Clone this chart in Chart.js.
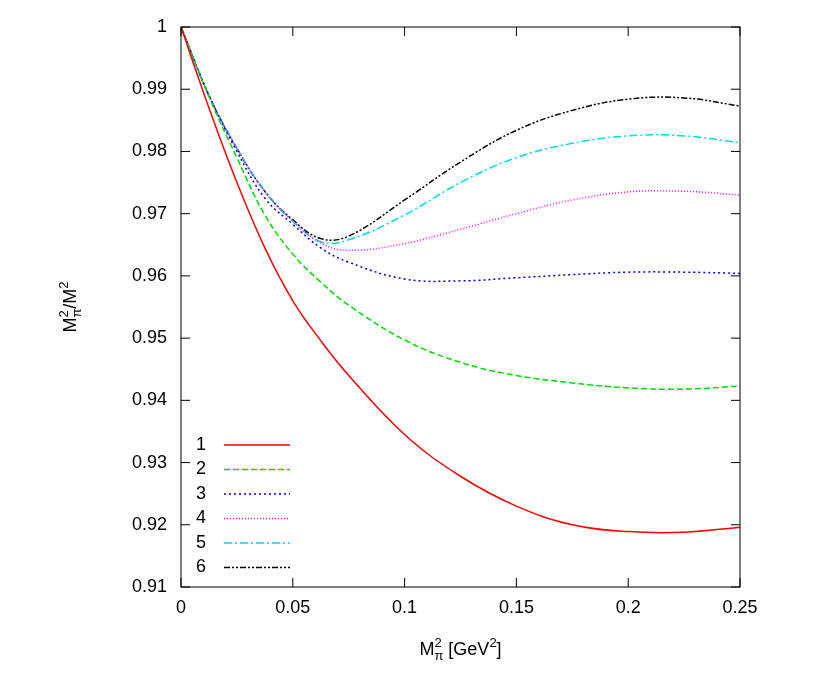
<!DOCTYPE html>
<html>
<head>
<script src="https://cdn.jsdelivr.net/npm/chart.js@4"></script>
<style>body{margin:0;background:#fff}#wrap{width:830px;height:691px}</style>
</head>
<body>
<div id="wrap"><canvas id="c"></canvas></div>
<script>
const xs = [0, 0.0125, 0.025, 0.0375, 0.05, 0.0625, 0.075, 0.1, 0.125, 0.15, 0.175, 0.2, 0.225, 0.25];
const s1 = [1, 0.987, 0.975, 0.9645, 0.956, 0.9496, 0.944, 0.9345, 0.9278, 0.923, 0.920, 0.9189, 0.9188, 0.9196];
const s2 = [1, 0.9888, 0.979, 0.9698, 0.9635, 0.959, 0.9553, 0.9497, 0.9461, 0.944, 0.9428, 0.942, 0.9418, 0.9423];
const s3 = [1, 0.989, 0.98, 0.9725, 0.9683, 0.9645, 0.9622, 0.9595, 0.9592, 0.9597, 0.9602, 0.9606, 0.9606, 0.9604];
const s4 = [1, 0.989, 0.9805, 0.9735, 0.9688, 0.9653, 0.9641, 0.9652, 0.9675, 0.970, 0.9722, 0.9735, 0.9736, 0.973];
const s5 = [1, 0.989, 0.9805, 0.9736, 0.9688, 0.9655, 0.9658, 0.9698, 0.975, 0.979, 0.9813, 0.9825, 0.9825, 0.9814];
const s6 = [1, 0.989, 0.9805, 0.9736, 0.969, 0.966, 0.9664, 0.9722, 0.9783, 0.9834, 0.9866, 0.9884, 0.9886, 0.9873];
const labels = ['1', '2', '3', '4', '5', '6'];
const colors = ['#ff0000', '#00dd00', '#0000ee', '#ff00ff', '#00dddd', '#000000'];
const dashes = [[], [6, 3], [2, 3], [1, 2], [8, 3, 2, 3], [6, 2, 2, 2, 2, 2]];

const series = [s1, s2, s3, s4, s5, s6];
const datasets = series.map((s, i) => ({
  label: labels[i],
  data: s.map((v, j) => ({x: xs[j], y: v})),
  borderColor: colors[i],
  borderDash: dashes[i],
  borderWidth: 1.5,
  pointRadius: 0,
  tension: 0.4,
  fill: false
}));

function supText(ctx, parts, x, y) {
  let cx = x;
  parts.forEach(([t, m]) => {
    if (m === 0) { ctx.font = '18px Liberation Sans'; ctx.fillText(t, cx, y); cx += ctx.measureText(t).width; }
    else if (m === 1) { ctx.font = '13px Liberation Sans'; ctx.fillText(t, cx, y - 8); cx += ctx.measureText(t).width; }
    else if (m === 3) {
      ctx.font = '13px Liberation Sans';
      const a = t.split('|');
      ctx.fillText(a[0], cx, y - 8); ctx.fillText(a[1], cx, y + 5);
      cx += Math.max(ctx.measureText(a[0]).width, ctx.measureText(a[1]).width);
    }
  });
  return cx - x;
}

const decor = {
  id: 'decor',
  afterDraw(chart) {
    const ctx = chart.ctx, a = chart.chartArea;
    ctx.save();
    ctx.strokeStyle = '#000'; ctx.lineWidth = 1; ctx.setLineDash([]);
    ctx.strokeRect(a.left, a.top, a.right - a.left, a.bottom - a.top);
    const xsc = chart.scales.x, ysc = chart.scales.y;
    ctx.beginPath();
    xsc.ticks.forEach(t => { const p = xsc.getPixelForValue(t.value);
      ctx.moveTo(p, a.bottom); ctx.lineTo(p, a.bottom - 9); ctx.moveTo(p, a.top); ctx.lineTo(p, a.top + 9); });
    ysc.ticks.forEach(t => { const p = ysc.getPixelForValue(t.value);
      ctx.moveTo(a.left, p); ctx.lineTo(a.left + 9, p); ctx.moveTo(a.right, p); ctx.lineTo(a.right - 9, p); });
    ctx.stroke();
    // legend
    ctx.fillStyle = '#000'; ctx.textBaseline = 'middle'; ctx.textAlign = 'left';
    chart.data.datasets.forEach((d, i) => {
      const y = 445 + i * 24.5;
      ctx.font = '18px Liberation Sans';
      ctx.fillText(d.label, 196, y);
      ctx.strokeStyle = d.borderColor; ctx.lineWidth = 1.5; ctx.setLineDash(d.borderDash);
      ctx.beginPath(); ctx.moveTo(224, y); ctx.lineTo(290, y); ctx.stroke();
    });
    ctx.setLineDash([]);
    // axis titles
    ctx.textBaseline = 'alphabetic';
    const xt = [['M', 0], ['2|π', 3], [' [GeV', 0], ['2', 1], [']', 0]];
    ctx.save(); ctx.globalAlpha = 0; const w = supText(ctx, xt, 0, 0); ctx.restore();
    supText(ctx, xt, (a.left + a.right) / 2 - w / 2, 655);
    ctx.translate(76, (a.top + a.bottom) / 2); ctx.rotate(-Math.PI / 2);
    const yt = [['M', 0], ['2|π', 3], ['/M', 0], ['2', 1]];
    ctx.save(); ctx.globalAlpha = 0; const w2 = supText(ctx, yt, 0, 0); ctx.restore();
    supText(ctx, yt, -w2 / 2, 0);
    ctx.restore();
  }
};

new Chart(document.getElementById('c'), {
  type: 'line',
  data: {datasets},
  options: {
    responsive: true, maintainAspectRatio: false, animation: false,
    layout: {padding: {top: 27, right: 90}},
    plugins: {legend: {display: false}, tooltip: {enabled: false}},
    scales: {
      x: {
        type: 'linear', min: 0, max: 0.25,
        grid: {display: false, drawTicks: false}, border: {display: false},
        ticks: {stepSize: 0.05, color: '#000', font: {size: 18, family: 'Liberation Sans'}, padding: 10,
          callback: v => Math.round(v * 100) / 100},
        afterFit: s => { s.height = 104; }
      },
      y: {
        min: 0.91, max: 1,
        grid: {display: false, drawTicks: false}, border: {display: false},
        ticks: {stepSize: 0.01, color: '#000', font: {size: 18, family: 'Liberation Sans'}, padding: 14,
          callback: v => Math.round(v * 100) / 100},
        afterFit: s => { s.width = 181; }
      }
    }
  },
  plugins: [decor]
});
</script>
</body>
</html>
